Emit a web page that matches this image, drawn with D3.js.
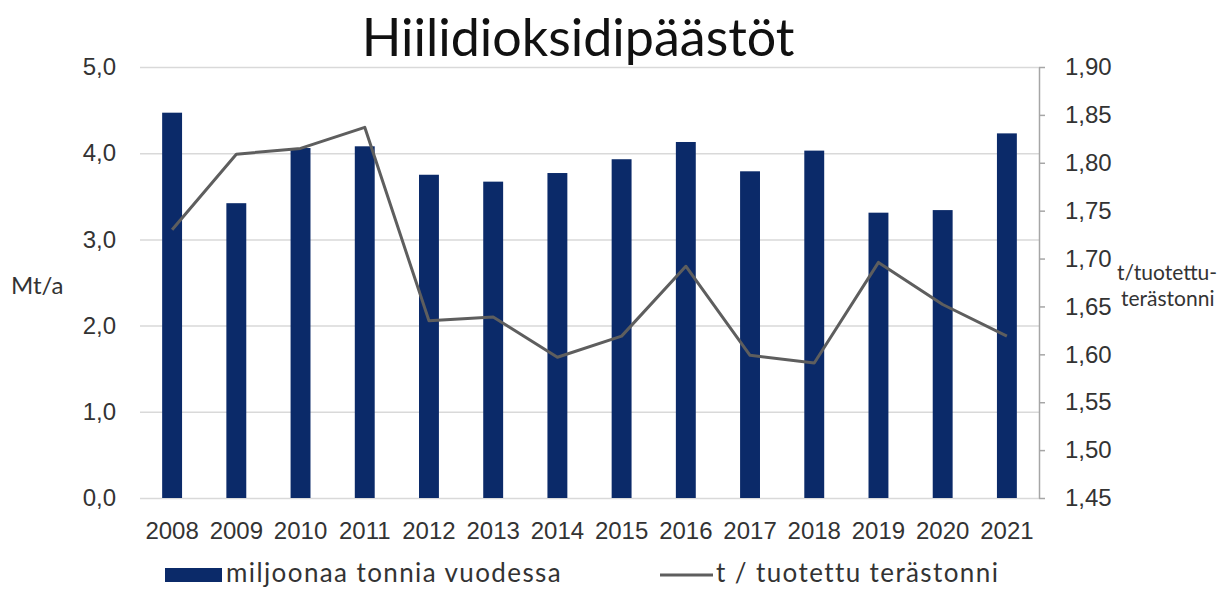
<!DOCTYPE html>
<html>
<head>
<meta charset="utf-8">
<script src="https://cdn.jsdelivr.net/npm/d3@7"></script>
<style>
  html, body { margin: 0; padding: 0; background: #fff; }
  svg { display: block; font-family: Lato, "Open Sans", sans-serif; }
</style>
</head>
<body>
<svg id="chart" width="1231" height="590"></svg>
<script>
const years = ["2008","2009","2010","2011","2012","2013","2014","2015","2016","2017","2018","2019","2020","2021"];
const emissions = [4.47, 3.42, 4.06, 4.08, 3.75, 3.67, 3.77, 3.93, 4.13, 3.79, 4.03, 3.31, 3.34, 4.23];
const intensity = [1.730, 1.809, 1.815, 1.837, 1.635, 1.639, 1.597, 1.619, 1.692, 1.599, 1.591, 1.696, 1.652, 1.619];
const leftTicks = [0, 1, 2, 3, 4, 5];
const rightTicks = [1.45, 1.50, 1.55, 1.60, 1.65, 1.70, 1.75, 1.80, 1.85, 1.90];
const titleText = "Hiilidioksidipäästöt";
const leftTitle = "Mt/a";
const rightTitle = ["t/tuotettu-", "terästonni"];
const legendBar = "miljoonaa tonnia vuodessa";
const legendLine = "t / tuotettu terästonni";

const barColor = "#0b2a69";
const lineColor = "#5e5e5e";
const textColor = "#333";

const svg = d3.select("#chart");
const plot = { left: 140, right: 1039, top: 67, bottom: 498 };

const x = d3.scaleBand().domain(years).range([plot.left, plot.right]).paddingInner(0.69).paddingOuter(0.345);
const yL = d3.scaleLinear().domain([0, 5]).range([plot.bottom, plot.top]);
const yR = d3.scaleLinear().domain([1.45, 1.90]).range([plot.bottom, plot.top]);

const fmt1 = d => d.toFixed(1).replace(".", ",");
const fmt2 = d => d.toFixed(2).replace(".", ",");

// Left axis with gridlines
const gL = svg.append("g").attr("transform", `translate(${plot.left},0)`)
  .call(d3.axisLeft(yL).tickValues(leftTicks).tickFormat(fmt1)
    .tickSize(-(plot.right - plot.left)).tickPadding(24));
gL.select(".domain").remove();
gL.selectAll(".tick line").attr("stroke", "#d9d9d9").attr("stroke-width", 1.5);
gL.selectAll(".tick text").attr("fill", textColor).style("font-size", "24px");

// Bars
svg.append("g").selectAll("rect").data(years).join("rect")
  .attr("x", d => x(d))
  .attr("width", x.bandwidth())
  .attr("y", (d, i) => yL(emissions[i]))
  .attr("height", (d, i) => yL(0) - yL(emissions[i]))
  .attr("fill", barColor);

// Line
const line = d3.line().x((d, i) => x(years[i]) + x.bandwidth() / 2).y(d => yR(d));
svg.append("path").datum(intensity)
  .attr("d", line)
  .attr("fill", "none")
  .attr("stroke", lineColor)
  .attr("stroke-width", 3)
  .attr("stroke-linejoin", "round");

// Right axis
const gR = svg.append("g").attr("transform", `translate(${plot.right},0)`)
  .call(d3.axisRight(yR).tickValues(rightTicks).tickFormat(fmt2).tickSize(6).tickSizeOuter(0).tickPadding(20));
gR.select(".domain").attr("stroke", "#a6a6a6").attr("stroke-width", 1.5);
gR.selectAll(".tick line").attr("stroke", "#a6a6a6").attr("stroke-width", 1.5);
gR.selectAll(".tick text").attr("fill", textColor).style("font-size", "24px");

// X axis
const gX = svg.append("g").attr("transform", `translate(0,${plot.bottom})`)
  .call(d3.axisBottom(x).tickSize(0).tickPadding(24));
gX.select(".domain").remove();
gX.selectAll(".tick text").attr("fill", textColor).style("font-size", "24px");

// Title
svg.append("text").attr("x", 578).attr("y", 56).attr("text-anchor", "middle")
  .attr("fill", "#111").style("font-size", "52px").text(titleText);

// Axis titles
svg.append("text").attr("x", 11).attr("y", 294).attr("fill", textColor)
  .style("font-size", "24px").text(leftTitle);
svg.append("text").attr("x", 1118).attr("y", 280).attr("fill", textColor)
  .style("font-size", "21px")
  .selectAll("tspan").data(rightTitle).join("tspan")
  .attr("x", (d, i) => i === 0 ? 1117 : 1121)
  .attr("dy", (d, i) => i === 0 ? 0 : 26)
  .text(d => d);

// Legend
const lg = svg.append("g");
lg.append("rect").attr("x", 165).attr("y", 568).attr("width", 57).attr("height", 14).attr("fill", barColor);
lg.append("text").attr("x", 226).attr("y", 573).attr("dy", "0.35em").attr("fill", textColor)
  .style("font-size", "26px").style("letter-spacing", "1.4px").text(legendBar);
lg.append("line").attr("x1", 660).attr("x2", 713).attr("y1", 575).attr("y2", 575)
  .attr("stroke", lineColor).attr("stroke-width", 3);
lg.append("text").attr("x", 716).attr("y", 573).attr("dy", "0.35em").attr("fill", textColor)
  .style("font-size", "26px").style("letter-spacing", "1.4px").text(legendLine);
</script>
</body>
</html>
